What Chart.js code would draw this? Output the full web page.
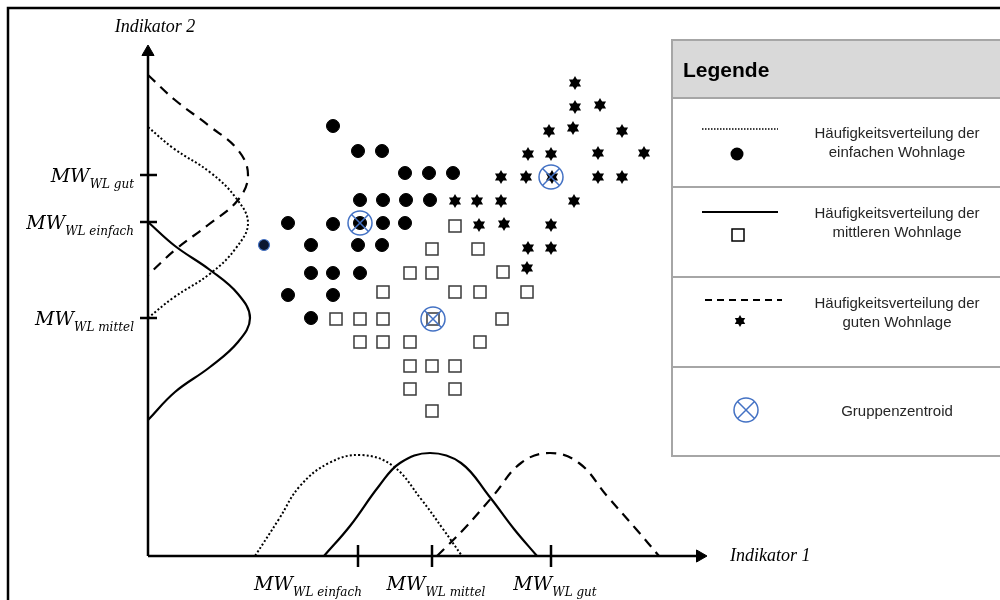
<!DOCTYPE html>
<html lang="de">
<head>
    <meta charset="UTF-8">
    <title>Häufigkeitsverteilung der Wohnlagen</title>
    <script src="https://cdn.jsdelivr.net/npm/chart.js"></script>
    <style>
        body {
            margin: 0;
            background: #fff;
        }
        .container {
            position: relative;
            width: 1000px;
            height: 600px;
        }
    </style>
</head>
<body>
    <div class="container">
        <canvas id="grafik"></canvas>
    </div>

    <script>
        // Punkte je Wohnlage (Indikator 1, Indikator 2)
        const einfachPunkte = [
            [185, 430],
            [210, 405], [234, 405],
            [257, 383], [281, 383], [305, 383],
            [212, 356], [235, 356], [258, 356], [282, 356],
            [140, 333], [185, 332], [212, 333], [235, 333], [257, 333],
            [163, 311], [210, 311], [234, 311],
            [163, 283], [185, 283], [212, 283],
            [140, 261], [185, 261],
            [163, 238]
        ];
        const einfachKlein = [[116, 311]];
        const mittelPunkte = [
            [307, 330],
            [284, 307], [330, 307],
            [262, 283], [284, 283], [355, 284],
            [235, 264], [307, 264], [332, 264], [379, 264],
            [188, 237], [212, 237], [235, 237], [285, 237], [354, 237],
            [212, 214], [235, 214], [262, 214], [332, 214],
            [262, 190], [284, 190], [307, 190],
            [262, 167], [307, 167],
            [284, 145]
        ];
        const gutPunkte = [
            [427, 473],
            [427, 449], [452, 451],
            [401, 425], [425, 428], [474, 425],
            [380, 402], [403, 402], [450, 403], [496, 403],
            [353, 379], [378, 379], [404, 379], [450, 379], [474, 379],
            [307, 355], [329, 355], [353, 355], [426, 355],
            [331, 331], [356, 332], [403, 331],
            [380, 308], [403, 308],
            [379, 288]
        ];
        const zentroide = [[212, 333], [285, 237], [403, 379]];

        // Mittelwerte je Wohnlage auf den Achsen
        const mwNamen = ['einfach', 'mittel', 'gut'];
        const mwIndikator1 = [210, 284, 403];
        const mwIndikator2 = [334, 238, 381];

        // Häufigkeitsverteilungen unten (Indikator 1, Höhe)
        const vertUntenEinfach = [[107, 0], [131, 37], [152, 70], [181, 93], [213, 101], [245, 90], [273, 57], [295, 27], [314, 0]];
        const vertUntenMittel = [[176, 0], [202, 30], [231, 70], [252, 93], [282, 103], [313, 93], [341, 60], [366, 27], [389, 0]];
        const vertUntenGut = [[289, 0], [316, 27], [345, 60], [373, 93], [402, 103], [431, 93], [459, 60], [488, 27], [511, 0]];

        // Häufigkeitsverteilungen links (Ausschlag, Indikator 2)
        const vertLinksGut = [[0, 481], [27, 456], [60, 431], [90, 406], [100, 381], [90, 356], [60, 331], [27, 306], [0, 281]];
        const vertLinksEinfach = [[0, 429], [25, 408], [63, 383], [88, 358], [100, 333], [88, 308], [63, 283], [25, 258], [0, 238]];
        const vertLinksMittel = [[0, 334], [27, 310], [62, 286], [90, 262], [102, 238], [90, 214], [62, 189], [27, 164], [0, 136]];

        // Achsen
        const achseX = [[0, 0], [552, 0]];
        const achseY = [[0, 0], [0, 504]];

        const toXY = arr => arr.map(p => ({ x: p[0], y: p[1] }));

        // sechszackiger Stern als Punktsymbol
        function sternBild(r) {
            const c = document.createElement('canvas');
            const s = Math.ceil(r * 2 + 2);
            c.width = s;
            c.height = s;
            const g = c.getContext('2d');
            g.fillStyle = '#000';
            const m = s / 2;
            for (let k = 0; k < 2; k++) {
                g.beginPath();
                for (let i = 0; i < 3; i++) {
                    const a = -Math.PI / 2 + k * Math.PI + i * 2 * Math.PI / 3;
                    g.lineTo(m + r * Math.cos(a), m + r * Math.sin(a));
                }
                g.closePath();
                g.fill();
            }
            return c;
        }
        const stern = sternBild(7);
        const sternKlein = sternBild(6);

        const linie = (data, dash, width) => ({
            data: toXY(data),
            showLine: true,
            borderColor: '#000',
            borderWidth: width,
            borderDash: dash,
            tension: 0.4,
            pointRadius: 0,
            fill: false
        });

        const fontMW = 'italic 19px "DejaVu Serif"';
        const fontSub = 'italic 12px "DejaVu Serif"';

        function mwText(ctx, name, x, y, align) {
            ctx.font = fontMW;
            const w1 = ctx.measureText('MW').width;
            ctx.font = fontSub;
            const w2 = ctx.measureText('WL ' + name).width;
            let start = x;
            if (align === 'right') start = x - w1 - w2;
            if (align === 'center') start = x - (w1 + w2) / 2;
            ctx.textAlign = 'left';
            ctx.textBaseline = 'alphabetic';
            ctx.font = fontMW;
            ctx.fillText('MW', start, y);
            ctx.font = fontSub;
            ctx.fillText('WL ' + name, start + w1, y + 6);
        }

        function linieZeichnen(ctx, x1, x2, y, dash, width) {
            ctx.save();
            ctx.strokeStyle = '#000';
            ctx.lineWidth = width;
            ctx.setLineDash(dash);
            ctx.beginPath();
            ctx.moveTo(x1, y);
            ctx.lineTo(x2, y);
            ctx.stroke();
            ctx.restore();
        }

        const beschriftung = {
            id: 'beschriftung',
            afterDraw(chart) {
                const ctx = chart.ctx;
                const xs = chart.scales.x;
                const ys = chart.scales.y;
                ctx.save();

                // Rahmen
                ctx.strokeStyle = '#000';
                ctx.lineWidth = 2.5;
                ctx.strokeRect(8, 8, 1010, 610);

                // Achsentitel
                ctx.fillStyle = '#000';
                ctx.font = 'italic 18px "Liberation Serif"';
                ctx.textAlign = 'center';
                ctx.textBaseline = 'middle';
                ctx.fillText('Indikator 2', xs.getPixelForValue(0) + 7, 27);
                ctx.textAlign = 'left';
                ctx.fillText('Indikator 1', 730, ys.getPixelForValue(0));

                // MW-Beschriftungen
                mwNamen.forEach((n, i) => {
                    mwText(ctx, n, 134, ys.getPixelForValue(mwIndikator2[i]) + 7, 'right');
                    const shift = n === 'einfach' ? -50 : 4;
                    mwText(ctx, n, xs.getPixelForValue(mwIndikator1[i]) + shift, 590, 'center');
                });

                // Legende
                const lx = 672, top = 40;
                const zeilen = [98, 187, 277, 367, 456];
                ctx.fillStyle = '#d9d9d9';
                ctx.fillRect(lx, top, 340, zeilen[0] - top);
                ctx.fillStyle = '#fff';
                ctx.fillRect(lx, zeilen[0], 340, zeilen[4] - zeilen[0]);
                ctx.strokeStyle = '#a6a6a6';
                ctx.lineWidth = 2;
                ctx.strokeRect(lx, top, 340, zeilen[4] - top);
                zeilen.slice(0, 4).forEach(y => {
                    ctx.beginPath();
                    ctx.moveTo(lx, y);
                    ctx.lineTo(1000, y);
                    ctx.stroke();
                });

                ctx.fillStyle = '#000';
                ctx.font = 'bold 21px "Liberation Sans"';
                ctx.textAlign = 'left';
                ctx.textBaseline = 'alphabetic';
                ctx.fillText('Legende', 683, 77);

                ctx.fillStyle = '#262626';
                ctx.font = '15px "Liberation Sans"';
                ctx.textAlign = 'center';
                ctx.textBaseline = 'middle';
                ctx.fillText('Häufigkeitsverteilung der', 897, 134);
                ctx.fillText('einfachen Wohnlage', 897, 153);
                ctx.fillText('Häufigkeitsverteilung der', 897, 214);
                ctx.fillText('mittleren Wohnlage', 897, 233);
                ctx.fillText('Häufigkeitsverteilung der', 897, 304);
                ctx.fillText('guten Wohnlage', 897, 323);
                ctx.fillText('Gruppenzentroid', 897, 412);

                // Legendensymbole
                linieZeichnen(ctx, 702, 778, 129, [1.5, 1.5], 1.5);
                ctx.fillStyle = '#000';
                ctx.beginPath();
                ctx.arc(737, 154, 6.5, 0, Math.PI * 2);
                ctx.fill();

                linieZeichnen(ctx, 702, 778, 212, [], 2);
                ctx.strokeStyle = '#000';
                ctx.lineWidth = 1.5;
                ctx.strokeRect(732, 229, 12, 12);

                linieZeichnen(ctx, 705, 782, 300, [7, 5], 2);
                ctx.drawImage(sternKlein, 740 - sternKlein.width / 2, 321 - sternKlein.height / 2);

                ctx.strokeStyle = '#4472c4';
                ctx.lineWidth = 1.5;
                ctx.beginPath();
                ctx.arc(746, 410, 12, 0, Math.PI * 2);
                ctx.stroke();
                const d = 12 * Math.SQRT1_2;
                ctx.beginPath();
                ctx.moveTo(746 - d, 410 - d);
                ctx.lineTo(746 + d, 410 + d);
                ctx.moveTo(746 + d, 410 - d);
                ctx.lineTo(746 - d, 410 + d);
                ctx.stroke();

                ctx.restore();
            }
        };

        const datasets = [
            {
                label: 'Gruppenzentroid',
                data: toXY(zentroide),
                pointStyle: 'circle',
                pointRadius: 12,
                borderColor: '#4472c4',
                backgroundColor: 'rgba(0,0,0,0)',
                borderWidth: 1.5
            },
            {
                label: 'Gruppenzentroid Kreuz',
                data: toXY(zentroide),
                pointStyle: 'crossRot',
                pointRadius: 12,
                borderColor: '#4472c4',
                borderWidth: 1.5
            },
            {
                label: 'einfache Wohnlage',
                data: toXY(einfachPunkte),
                pointStyle: 'circle',
                pointRadius: 6.5,
                backgroundColor: '#000',
                borderColor: '#000',
                borderWidth: 1
            },
            {
                label: 'einfache Wohnlage (klein)',
                data: toXY(einfachKlein),
                pointStyle: 'circle',
                pointRadius: 5.5,
                backgroundColor: '#0b1630',
                borderColor: '#4472c4',
                borderWidth: 1.2
            },
            {
                label: 'mittlere Wohnlage',
                data: toXY(mittelPunkte),
                pointStyle: 'rect',
                pointRadius: 8.5,
                backgroundColor: '#fff',
                borderColor: '#3a3a3a',
                borderWidth: 1.5
            },
            {
                label: 'gute Wohnlage',
                data: toXY(gutPunkte),
                pointStyle: stern,
                pointRadius: 7
            },
            linie(vertUntenEinfach, [2, 2.2], 2),
            linie(vertUntenMittel, [], 2.2),
            linie(vertUntenGut, [10, 7], 2.2),
            linie(vertLinksEinfach, [2, 2.2], 2),
            linie(vertLinksMittel, [], 2.2),
            linie(vertLinksGut, [10, 7], 2.2),
            {
                data: mwIndikator2.map(v => ({ x: 0.5, y: v })),
                pointStyle: 'line',
                pointRadius: 8.5,
                borderColor: '#000',
                borderWidth: 2.5
            },
            {
                data: mwIndikator1.map(v => ({ x: v, y: 0 })),
                pointStyle: 'line',
                pointRotation: 90,
                pointRadius: 11,
                borderColor: '#000',
                borderWidth: 2.5
            },
            {
                data: [{ x: achseX[1][0], y: 0 }],
                pointStyle: 'triangle',
                pointRotation: 90,
                pointRadius: 7,
                backgroundColor: '#000',
                borderColor: '#000',
                borderWidth: 1
            },
            {
                data: [{ x: 0, y: achseY[1][1] }],
                pointStyle: 'triangle',
                pointRotation: 0,
                pointRadius: 7,
                backgroundColor: '#000',
                borderColor: '#000',
                borderWidth: 1
            },
            Object.assign(linie(achseX, [], 2.5), { tension: 0 }),
            Object.assign(linie(achseY, [], 2.5), { tension: 0 })
        ];

        new Chart(document.getElementById('grafik'), {
            type: 'scatter',
            data: { datasets: datasets },
            options: {
                responsive: true,
                maintainAspectRatio: false,
                animation: false,
                events: [],
                layout: { padding: 0, autoPadding: false },
                plugins: {
                    legend: { display: false },
                    tooltip: { enabled: false }
                },
                scales: {
                    x: { type: 'linear', min: -148, max: 852, display: false },
                    y: { type: 'linear', min: -44, max: 556, display: false }
                }
            },
            plugins: [beschriftung]
        });
    </script>
</body>
</html>
